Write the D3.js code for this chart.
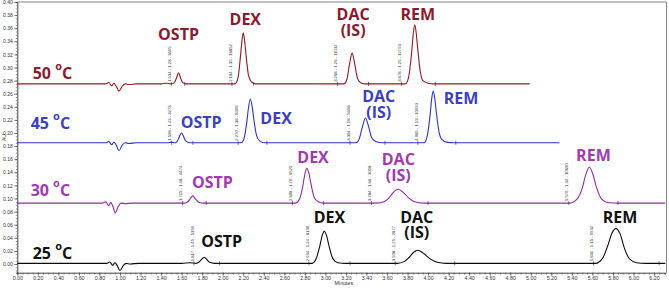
<!DOCTYPE html>
<html>
<head>
<meta charset="utf-8">
<script src="https://cdn.jsdelivr.net/npm/d3@7"></script>
<style>
  body { margin: 0; background: #fff; }
  svg { display: block; }
  .tick text { font-family: "Liberation Sans", Arial, sans-serif; }
</style>
</head>
<body>
<svg id="chart" width="669" height="288"></svg>
<script>
// ---- data (time in minutes, AU above each run's baseline) ----
const temps = ["50", "45", "30", "25"];
const baselines = [0.275, 0.185, 0.093, 0.001];
const compounds = ["OSTP", "DEX", "DAC", "REM"];

const run50 = [[0,0],[0.86,0],[0.89,0.002],[0.92,-0.003],[0.94,0.001],[0.965,-0.004],[0.99,-0.011],[1.02,-0.004],[1.05,0],[1.09,-0.001],[1.16,0],[1.40,0],[1.45,0.001],[1.50,0],
  [1.53,0.002],[1.55,0.009],[1.57,0.017],[1.59,0.009],[1.61,0.002],[1.64,0],
  [2.12,0],[2.15,0.010],[2.17,0.037],[2.185,0.062],[2.20,0.078],[2.215,0.064],[2.23,0.040],[2.25,0.014],[2.28,0.003],[2.32,0],
  [3.18,0],[3.21,0.007],[3.235,0.030],[3.26,0.047],[3.285,0.031],[3.31,0.010],[3.34,0.002],[3.38,0],
  [3.78,0],[3.81,0.010],[3.84,0.048],[3.855,0.075],[3.87,0.090],[3.885,0.077],[3.90,0.052],[3.925,0.018],[3.95,0.005],[4.0,0.001],[4.05,0],[4.99,0]];

const run45 = [[0,0],[0.86,0],[0.89,0.002],[0.92,-0.003],[0.94,0.001],[0.965,-0.004],[0.99,-0.012],[1.02,-0.004],[1.05,0],[1.09,-0.001],[1.16,0],[1.46,0],[1.50,0.001],[1.53,0],
  [1.55,0.001],[1.57,0.006],[1.585,0.012],[1.60,0.015],[1.615,0.011],[1.635,0.004],[1.66,0.001],[1.70,0],
  [2.18,0],[2.21,0.008],[2.235,0.032],[2.25,0.052],[2.27,0.067],[2.29,0.052],[2.305,0.034],[2.33,0.011],[2.36,0.003],[2.41,0],
  [3.30,0],[3.33,0.006],[3.36,0.024],[3.39,0.038],[3.42,0.025],[3.45,0.008],[3.49,0.002],[3.55,0],
  [3.96,0],[3.99,0.009],[4.02,0.043],[4.035,0.067],[4.05,0.079],[4.065,0.068],[4.08,0.047],[4.105,0.018],[4.13,0.006],[4.18,0.001],[4.25,0],[5.28,0]];

const run30 = [[0,0],[0.83,0],[0.86,0.002],[0.89,-0.004],[0.91,0.001],[0.93,-0.005],[0.955,-0.015],[0.98,-0.006],[1.01,0],[1.05,-0.001],[1.12,0],
  [1.63,0],[1.66,0.002],[1.69,0.008],[1.71,0.011],[1.73,0.007],[1.76,0.002],[1.80,0],
  [2.71,0],[2.75,0.007],[2.78,0.026],[2.80,0.044],[2.82,0.053],[2.84,0.045],[2.86,0.029],[2.89,0.009],[2.93,0.002],[2.98,0],
  [3.50,0],[3.57,0.002],[3.62,0.008],[3.66,0.016],[3.71,0.021],[3.76,0.016],[3.81,0.008],[3.87,0.002],[3.95,0],
  [5.38,0],[5.45,0.006],[5.50,0.022],[5.535,0.043],[5.57,0.055],[5.605,0.044],[5.64,0.024],[5.69,0.006],[5.75,0.001],[5.85,0],[6.31,0]];

const run25 = [[0,0],[0.87,0],[0.90,0.002],[0.93,-0.003],[0.95,0.001],[0.975,-0.004],[1.0,-0.011],[1.03,-0.004],[1.06,0],[1.10,-0.001],[1.18,0],[1.60,0],[1.68,0.001],[1.74,0],
  [1.77,0.002],[1.80,0.007],[1.82,0.009],[1.845,0.006],[1.87,0.002],[1.92,0],
  [2.87,0],[2.91,0.007],[2.945,0.026],[2.97,0.043],[2.99,0.049],[3.01,0.043],[3.035,0.027],[3.07,0.008],[3.12,0.001],[3.2,0],
  [3.70,0],[3.77,0.003],[3.82,0.010],[3.86,0.017],[3.90,0.020],[3.95,0.016],[4.01,0.008],[4.08,0.002],[4.18,0],
  [5.63,0],[5.70,0.008],[5.75,0.027],[5.79,0.046],[5.83,0.053],[5.87,0.045],[5.91,0.024],[5.96,0.007],[6.03,0.001],[6.12,0],[6.31,0]];

const runs = [run50, run45, run30, run25];

// integration start / end (min)
const peakStart = [[1.50, 2.09, 3.12, 3.74], [1.50, 2.15, 3.24, 3.90], [1.61, 2.68, 3.45, 5.37], [1.72, 2.84, 3.68, 5.61]];
const peakEnd = [[1.63, 2.30, 3.42, 4.07], [1.71, 2.43, 3.58, 4.27], [1.84, 2.98, 4.00, 5.85], [1.97, 3.24, 4.26, 6.25]];
const peakInfo = [
  ["1.514 - 1.28 - 3695", "2.184 - 1.35 - 18852", "3.268 - 1.26 - 11532", "3.878 - 1.25 - 12793"],
  ["1.598 - 1.43 - 3273", "2.270 - 1.38 - 8305", "3.304 - 1.18 - 5658", "4.065 - 1.13 - 10993"],
  ["1.715 - 1.48 - 4474", "2.808 - 1.70 - 6525", "3.784 - 1.66 - 3098", "5.570 - 1.32 - 10690"],
  ["1.817 - 1.49 - 5399", "2.934 - 1.24 - 8130", "3.908 - 1.29 - 2877", "5.831 - 1.15 - 9932"]];

// peak name anchors [time, AU] (centre of text baseline)
const nameAt = [
  [[1.57, 0.342], [2.22, 0.365], [3.27, 0.372], [3.90, 0.372]],
  [[1.79, 0.208], [2.52, 0.213], [3.52, 0.247], [4.32, 0.244]],
  [[1.90, 0.116], [2.88, 0.154], [3.71, 0.151], [5.61, 0.158]],
  [[1.99, 0.026], [3.04, 0.063], [3.89, 0.063], [5.87, 0.063]]];
const tempAt = [[0.15, 0.282], [0.13, 0.206], [0.13, 0.104], [0.15, 0.008]];

const lineColors = ["#8b1c25", "#2b33c6", "#8d2c9c", "#0a0a0a"];
const textColors = ["#8a1a2c", "#3b3fc0", "#a03ab0", "#111111"];

// ---- layout ----
const svg = d3.select("#chart");
const x = d3.scaleLinear().domain([0, 6.31]).range([17.3, 665.3]);
const y = d3.scaleLinear().domain([-0.0133, 0.40]).range([272.7, 2]);

// frame
svg.append("path")
  .attr("d", `M${x.range()[0]},${y(0.40)}H666.5V${y.range()[0]}`)
  .attr("fill", "none").attr("stroke", "#666").attr("stroke-width", 0.8);

// axes
const minorX = d3.range(0, 6.301, 0.05);
svg.append("g")
  .attr("transform", `translate(0,${y.range()[0]})`)
  .call(d3.axisBottom(x).tickValues(minorX).tickSize(2).tickFormat(""))
  .call(g => g.select(".domain").attr("stroke", "#444"))
  .selectAll("line").attr("stroke", "#555").attr("stroke-width", 0.6);

svg.append("g")
  .attr("transform", `translate(0,${y.range()[0]})`)
  .call(d3.axisBottom(x).tickValues(d3.range(0, 6.201, 0.2)).tickSize(3).tickPadding(1).tickFormat(d3.format(".2f")))
  .call(g => g.select(".domain").remove())
  .call(g => g.selectAll("text").attr("font-size", 5.3).attr("fill", "#333"))
  .selectAll("line").attr("stroke", "#444").attr("stroke-width", 0.7);

svg.append("g")
  .attr("transform", `translate(${x.range()[0]},0)`)
  .call(d3.axisLeft(y).tickValues(d3.range(-0.01, 0.4001, 0.005)).tickSize(1.5).tickFormat(""))
  .call(g => g.select(".domain").attr("stroke", "#444"))
  .selectAll("line").attr("stroke", "#555").attr("stroke-width", 0.6);

svg.append("g")
  .attr("transform", `translate(${x.range()[0]},0)`)
  .call(d3.axisLeft(y).tickValues(d3.range(0, 0.4001, 0.02)).tickSize(3).tickPadding(1.5).tickFormat(d3.format(".2f")))
  .call(g => g.select(".domain").remove())
  .call(g => g.selectAll("text").attr("font-size", 5).attr("fill", "#333"))
  .selectAll("line").attr("stroke", "#444").attr("stroke-width", 0.7);

svg.append("text")
  .attr("transform", `translate(5.5,${y(0.193)}) rotate(-90)`)
  .attr("text-anchor", "middle")
  .attr("font-family", "Liberation Sans, Arial, sans-serif")
  .attr("font-size", 5).attr("fill", "#333").text("AU");

svg.append("text")
  .attr("x", x(3.18)).attr("y", 285)
  .attr("text-anchor", "middle")
  .attr("font-family", "Liberation Sans, Arial, sans-serif")
  .attr("font-size", 5.3).attr("fill", "#333").text("Minutes");

// traces
const line = d3.line().curve(d3.curveMonotoneX);

runs.forEach((run, i) => {
  const base = baselines[i];
  const g = svg.append("g");

  g.append("path")
    .attr("d", line(run.map(([t, v]) => [x(t), y(base + v)])))
    .attr("fill", "none")
    .attr("stroke", lineColors[i])
    .attr("stroke-width", 1.1);

  // integration marks
  peakStart[i].concat(peakEnd[i]).forEach(t => {
    g.append("line")
      .attr("x1", x(t)).attr("x2", x(t))
      .attr("y1", y(base) - 2).attr("y2", y(base) + 2)
      .attr("stroke", "#222").attr("stroke-width", 0.6);
  });

  // peak info text
  peakInfo[i].forEach((s, k) => {
    g.append("text")
      .attr("transform", `translate(${x(peakStart[i][k]) - 0.3},${y(base) - 2}) rotate(-90)`)
      .attr("font-family", "Liberation Sans, Arial, sans-serif")
      .attr("font-size", 4.2).attr("fill", "#333")
      .text(s);
  });

  // compound names (DAC gets a second line)
  compounds.forEach((c, k) => {
    const [t, v] = nameAt[i][k];
    const tx = g.append("text")
      .attr("x", x(t)).attr("y", y(v))
      .attr("text-anchor", "middle")
      .attr("font-family", "Open Sans, sans-serif")
      .attr("font-weight", 700).attr("font-size", 16)
      .attr("fill", textColors[i]);
    tx.append("tspan").attr("x", x(t)).text(c);
    if (c === "DAC") tx.append("tspan").attr("x", x(t)).attr("dy", 15.5).text("(IS)");
  });

  // temperature label
  const [tt, tv] = tempAt[i];
  const lab = g.append("text")
    .attr("x", x(tt)).attr("y", y(tv))
    .attr("font-family", "Open Sans, sans-serif")
    .attr("font-weight", 700).attr("font-size", 16)
    .attr("fill", textColors[i]);
  lab.append("tspan").text(temps[i] + " ");
  lab.append("tspan").attr("font-size", 11).attr("dy", -9).text("o");
  lab.append("tspan").attr("dy", 9).text("C");
});
</script>
</body>
</html>
